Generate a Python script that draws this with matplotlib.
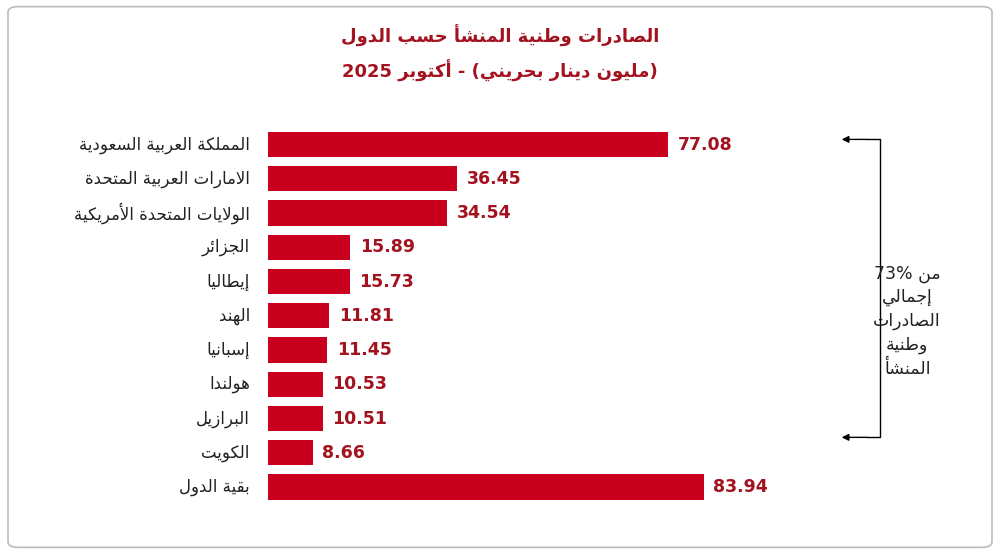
import matplotlib
matplotlib.use("Agg")
import matplotlib.pyplot as plt
from matplotlib.patches import FancyBboxPatch

categories = ["المملكة العربية السعودية", "الامارات العربية المتحدة", "الولايات المتحدة الأمريكية",
              "الجزائر", "إيطاليا", "الهند", "إسبانيا", "هولندا", "البرازيل", "الكويت", "بقية الدول"]
values = [77.08, 36.45, 34.54, 15.89, 15.73, 11.81, 11.45, 10.53, 10.51, 8.66, 83.94]

# --- minimal Arabic shaping (presentation forms) ---
F = {'ء':(0xFE80,),'آ':(0xFE81,0xFE82),'أ':(0xFE83,0xFE84),'ؤ':(0xFE85,0xFE86),'إ':(0xFE87,0xFE88),
     'ئ':(0xFE89,0xFE8A,0xFE8B,0xFE8C),'ا':(0xFE8D,0xFE8E),'ب':(0xFE8F,0xFE90,0xFE91,0xFE92),
     'ة':(0xFE93,0xFE94),'ت':(0xFE95,0xFE96,0xFE97,0xFE98),'ث':(0xFE99,0xFE9A,0xFE9B,0xFE9C),
     'ج':(0xFE9D,0xFE9E,0xFE9F,0xFEA0),'ح':(0xFEA1,0xFEA2,0xFEA3,0xFEA4),'خ':(0xFEA5,0xFEA6,0xFEA7,0xFEA8),
     'د':(0xFEA9,0xFEAA),'ذ':(0xFEAB,0xFEAC),'ر':(0xFEAD,0xFEAE),'ز':(0xFEAF,0xFEB0),
     'س':(0xFEB1,0xFEB2,0xFEB3,0xFEB4),'ش':(0xFEB5,0xFEB6,0xFEB7,0xFEB8),'ص':(0xFEB9,0xFEBA,0xFEBB,0xFEBC),
     'ض':(0xFEBD,0xFEBE,0xFEBF,0xFEC0),'ط':(0xFEC1,0xFEC2,0xFEC3,0xFEC4),'ظ':(0xFEC5,0xFEC6,0xFEC7,0xFEC8),
     'ع':(0xFEC9,0xFECA,0xFECB,0xFECC),'غ':(0xFECD,0xFECE,0xFECF,0xFED0),'ف':(0xFED1,0xFED2,0xFED3,0xFED4),
     'ق':(0xFED5,0xFED6,0xFED7,0xFED8),'ك':(0xFED9,0xFEDA,0xFEDB,0xFEDC),'ل':(0xFEDD,0xFEDE,0xFEDF,0xFEE0),
     'م':(0xFEE1,0xFEE2,0xFEE3,0xFEE4),'ن':(0xFEE5,0xFEE6,0xFEE7,0xFEE8),'ه':(0xFEE9,0xFEEA,0xFEEB,0xFEEC),
     'و':(0xFEED,0xFEEE),'ى':(0xFEEF,0xFEF0),'ي':(0xFEF1,0xFEF2,0xFEF3,0xFEF4)}
LA = {'آ':(0xFEF5,0xFEF6),'أ':(0xFEF7,0xFEF8),'إ':(0xFEF9,0xFEFA),'ا':(0xFEFB,0xFEFC)}

def shape_word(w):
    w = ''.join(c for c in w if c in F or not ('\u064B' <= c <= '\u0652'))
    out = []
    i = 0
    prev_joins = False
    while i < len(w):
        c = w[i]
        if c not in F:
            out.append(c); prev_joins = False; i += 1; continue
        if c == 'ل' and i + 1 < len(w) and w[i+1] in LA:
            out.append(chr(LA[w[i+1]][1 if prev_joins else 0]))
            prev_joins = False; i += 2; continue
        forms = F[c]
        nxt = w[i+1] if i + 1 < len(w) else None
        next_letter = nxt in F
        can_next = len(forms) == 4 and next_letter
        if prev_joins and can_next: g = forms[3]
        elif prev_joins: g = forms[1] if len(forms) > 1 else forms[0]
        elif can_next: g = forms[2]
        else: g = forms[0]
        out.append(chr(g))
        prev_joins = len(forms) == 4
        i += 1
    return ''.join(out)

def ar(s):
    shaped = ' '.join(shape_word(w) for w in s.split(' '))
    return shaped[::-1]

red = "#C8001E"
dark = "#A3121F"

fig = plt.figure(figsize=(10, 5.54), dpi=100)
fig.patches.append(FancyBboxPatch((0.008, 0.012), 0.984, 0.976, boxstyle="round,pad=0,rounding_size=0.01",
                                  transform=fig.transFigure, fill=False, edgecolor="#BBBBBB", lw=1.2))
ax = fig.add_axes([0.268, 0.09, 0.532, 0.68])
y = list(range(len(categories)))
ax.barh(y, values, height=0.74, color=red)
ax.set_ylim(len(categories) - 0.5, -0.5)
ax.set_xlim(0, 102.5)
ax.axis("off")
for yi, v, c in zip(y, values, categories):
    ax.text(v + 1.8, yi, f"{v:.2f}", va="center", ha="left", fontsize=12.5, fontweight="bold", color=dark)
    ax.text(-3.5, yi, ar(c), va="center", ha="right", fontsize=12, color="#222222", family="DejaVu Sans")

fig.text(0.5, 0.935, ar("الصادرات وطنية المنشأ حسب الدول"), ha="center", va="center",
         fontsize=13, fontweight="bold", color=dark)
fig.text(0.5, 0.872, "2025 " + ar("أكتوبر") + " - (" + ar("مليون دينار بحريني") + ")", ha="center",
         va="center", fontsize=13, fontweight="bold", color=dark)

# bracket with arrows
ax.plot([115.5, 118, 118, 115.5], [-0.15, -0.15, 8.55, 8.55], color="black", lw=1, clip_on=False)
for yy in (-0.15, 8.55):
    ax.annotate("", xy=(110, yy), xytext=(116, yy), arrowprops=dict(arrowstyle="-|>", color="black", lw=1),
                annotation_clip=False)
lines = ["73% " + ar("من"), ar("إجمالي"), ar("الصادرات"), ar("وطنية"), ar("المنشأ")]
fig.text(0.907, 0.42, "\n".join(lines), ha="center", va="center", fontsize=12.5, color="#222222",
         linespacing=1.4)
fig.savefig("out.png", dpi=100)
